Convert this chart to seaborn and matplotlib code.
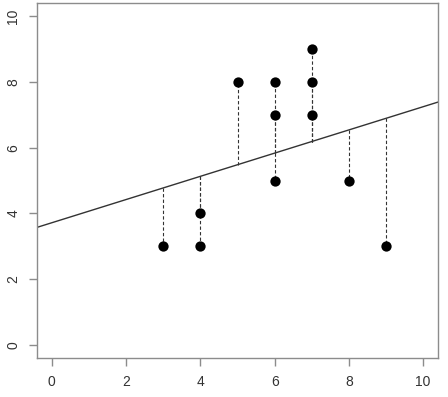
import numpy as np
import pandas as pd
import matplotlib
matplotlib.use("Agg")
import matplotlib.pyplot as plt
import seaborn as sns

# data points
x_vals = [3, 4, 4, 5, 6, 6, 6, 7, 7, 7, 8, 9]
y_vals = [3, 3, 4, 8, 5, 7, 8, 7, 8, 9, 5, 3]
x_ticks = [0, 2, 4, 6, 8, 10]
y_ticks = [0, 2, 4, 6, 8, 10]

df = pd.DataFrame({"x": x_vals, "y": y_vals})

sns.set_style("white")
plt.rcParams['font.family'] = ['Liberation Sans', 'DejaVu Sans']

fig = plt.figure(figsize=(4.48, 3.97), dpi=100)
ax = fig.add_axes([0.0826, 0.0982, 0.8951, 0.8942])

# least squares fit
slope, intercept = np.polyfit(df["x"], df["y"], 1)
df["fit"] = intercept + slope * df["x"]

# residual segments
ax.vlines(df["x"], df["fit"], df["y"], colors="#333333", linestyles=(0, (3, 2)),
          linewidth=0.8, zorder=1)

ax.axline((0, intercept), slope=slope, color="#333333", linewidth=1.0, zorder=2)

sns.scatterplot(data=df, x="x", y="y", color="black", s=55, edgecolor="black",
                linewidth=0, ax=ax, zorder=3)

ax.set_xlim(-0.4, 10.4)
ax.set_ylim(-0.4, 10.4)
ax.set_xticks(x_ticks)
ax.set_yticks(y_ticks)
ax.set_xlabel("")
ax.set_ylabel("")

for sp in ax.spines.values():
    sp.set_visible(True)
    sp.set_color("#8c8c8c")
    sp.set_linewidth(1.0)

ax.tick_params(axis="both", direction="out", length=6, width=1.0, color="#8c8c8c",
               labelsize=10, labelcolor="#333333", pad=6, bottom=True, left=True)
for lab in ax.get_yticklabels():
    lab.set_rotation(90)
    lab.set_va("center")

fig.savefig("out.png", dpi=100)
